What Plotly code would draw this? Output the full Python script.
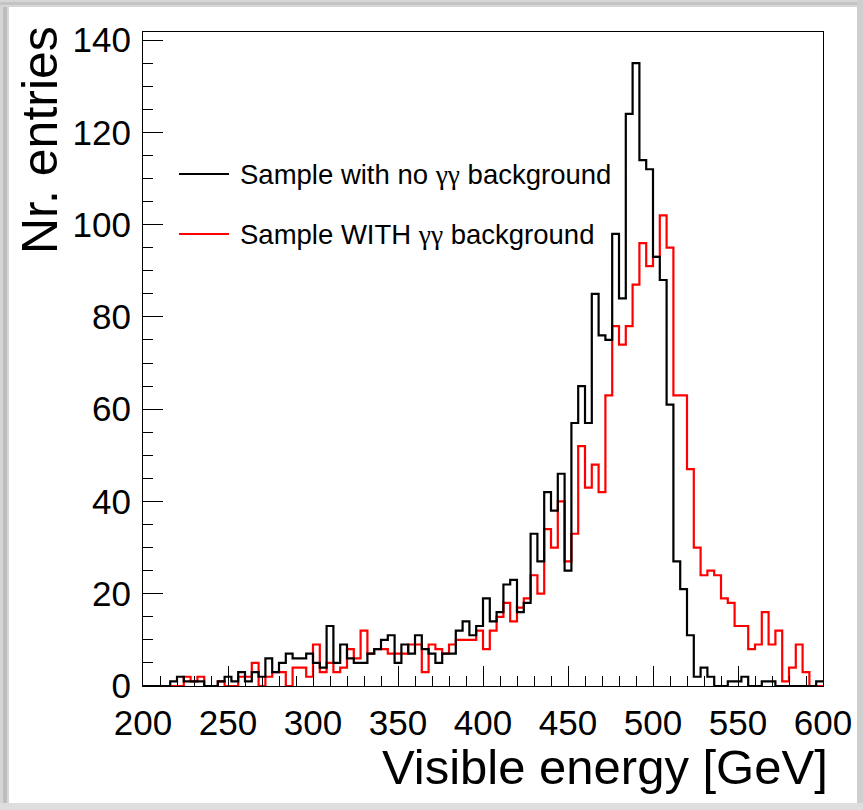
import numpy as np
import plotly.graph_objects as go

# Histogram definition: 100 bins of 4 GeV from 200 to 600 GeV
bin_low = 200.0
bin_width = 4.0

no_gg = [0, 0, 0, 0, 1, 2, 1, 1, 1, 0,
         0, 1, 2, 1, 3, 1, 3, 2, 6, 3,
         5, 7, 6, 6, 7, 5, 4, 13, 5, 9,
         6, 5, 5, 7, 8, 10, 11, 5, 9, 7,
         11, 8, 7, 5, 7, 7, 12, 14, 11, 13,
         19, 14, 16, 22, 23, 16, 18, 33, 27, 42,
         38, 46, 25, 57, 65, 57, 85, 76, 75, 98,
         84, 124, 135, 114, 112, 93, 88, 61, 27, 21,
         11, 2, 4, 2, 0, 0, 1, 1, 2, 0,
         0, 1, 1, 0, 0, 0, 0, 0, 0, 1]

with_gg = [0, 0, 0, 0, 0, 0, 2, 1, 2, 0,
           0, 1, 0, 0, 2, 2, 5, 0, 2, 3,
           3, 0, 4, 4, 2, 9, 3, 5, 3, 4,
           8, 6, 12, 7, 8, 8, 7, 7, 7, 9,
           9, 3, 9, 8, 7, 9, 10, 10, 10, 12,
           8, 12, 15, 18, 14, 17, 19, 24, 20, 34,
           30, 40, 27, 33, 52, 43, 48, 42, 63, 78,
           74, 78, 87, 96, 91, 93, 102, 95, 63, 63,
           47, 30, 24, 25, 24, 19, 18, 13, 13, 8,
           9, 16, 9, 12, 1, 4, 9, 3, 0, 0]

x_ticks = [200, 250, 300, 350, 400, 450, 500, 550, 600]
y_ticks = [0, 20, 40, 60, 80, 100, 120, 140]
gg = "<span style='font-family:Liberation Serif, Times New Roman, serif'>\u03b3\u03b3</span>"
legend_labels = ["Sample with no " + gg + " background",
                 "Sample WITH " + gg + " background"]

nb = len(no_gg)
edges = bin_low + bin_width * np.arange(nb + 1)

def step(vals):
    return list(edges), list(vals) + [vals[-1]]

fig = go.Figure()
xr, yr = step(with_gg)
fig.add_trace(go.Scatter(x=xr, y=yr, mode="lines", line=dict(color="#ff0000", width=2.2, shape="hv"),
                         name="Sample WITH gg background", showlegend=False))
xb, yb = step(no_gg)
fig.add_trace(go.Scatter(x=xb, y=yb, mode="lines", line=dict(color="black", width=2.2, shape="hv"),
                         name="Sample with no gg background", showlegend=False))

W, H = 863, 810
L, R, T, B = 143, 40, 32, 124
pw, ph = W - L - R, H - T - B

def px(x):
    return (x - L) / pw

def py(y):
    return (H - B - y) / ph

font_main = "Liberation Sans, Arial, sans-serif"

fig.update_layout(
    width=W, height=H,
    margin=dict(l=L, r=R, t=T, b=B),
    paper_bgcolor="white", plot_bgcolor="white",
    font=dict(family=font_main, color="black"),
    xaxis=dict(range=[200, 600], tickmode="array", tickvals=x_ticks,
               ticktext=[str(v) for v in x_ticks],
               ticks="inside", ticklen=20, tickwidth=1, tickcolor="black",
               minor=dict(dtick=10, tick0=200, ticks="inside", ticklen=10, tickwidth=1, tickcolor="black"),
               showline=True, mirror=True, linecolor="black", linewidth=1,
               showgrid=False, zeroline=False,
               tickfont=dict(size=35, family=font_main), ticklabelstandoff=6),
    yaxis=dict(range=[0, 141.75], tickmode="array", tickvals=y_ticks,
               ticktext=[str(v) for v in y_ticks],
               ticks="inside", ticklen=20, tickwidth=1, tickcolor="black",
               minor=dict(dtick=5, tick0=0, ticks="inside", ticklen=10, tickwidth=1, tickcolor="black"),
               showline=True, mirror=True, linecolor="black", linewidth=1,
               showgrid=False, zeroline=False,
               tickfont=dict(size=35, family=font_main), ticklabelstandoff=4),
)

# axis titles
fig.add_annotation(text="Visible energy [GeV]", xref="paper", yref="paper",
                   x=px(830), y=py(767), xanchor="right", yanchor="middle",
                   showarrow=False, font=dict(size=49, family=font_main))
fig.add_annotation(text="Nr. entries", xref="paper", yref="paper",
                   x=px(40), y=py(24), xanchor="center", yanchor="top", textangle=-90,
                   showarrow=False, font=dict(size=50, family=font_main))

# legend
for lab, col, yy in [(legend_labels[0], "black", 174), (legend_labels[1], "#ff0000", 234)]:
    fig.add_shape(type="line", xref="paper", yref="paper", x0=px(179), x1=px(229),
                  y0=py(yy), y1=py(yy), line=dict(color=col, width=2))
    fig.add_annotation(text=lab, xref="paper", yref="paper", x=px(238), y=py(yy),
                       xanchor="left", yanchor="middle", showarrow=False,
                       font=dict(size=27.5, family=font_main))

# document-style shadow border
for (x0, x1, y0, y1, c) in [
    (0, 9, 0, H, "#d6d6d6"), (3, 7, 0, H, "#bdbdbd"),
    (0, W, 0, 7, "#d6d6d6"), (0, W, 2, 5, "#c4c4c4"),
    (W - 6, W, 0, H, "#cfcfcf"), (0, W, H - 7, H, "#dedede"),
]:
    fig.add_shape(type="rect", xref="paper", yref="paper", x0=px(x0), x1=px(x1),
                  y0=py(y1), y1=py(y0), line=dict(width=0), fillcolor=c, layer="below")

fig.write_html("out.html")
